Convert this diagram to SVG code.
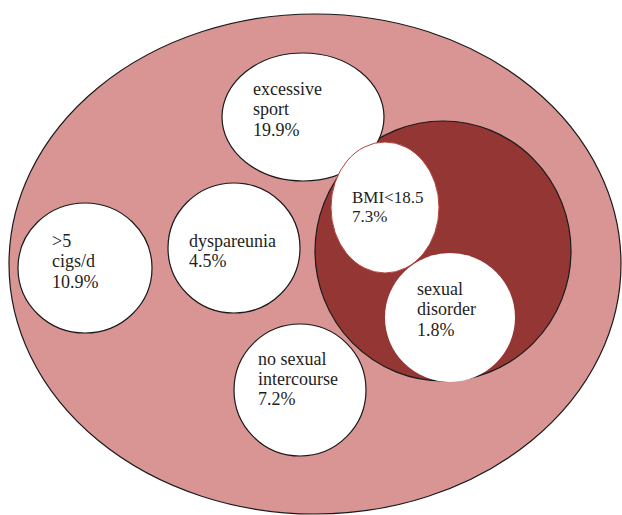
<svg xmlns="http://www.w3.org/2000/svg" width="622" height="515" viewBox="0 0 622 515">
<style>
.bubble{fill:#ffffff;stroke:#1a1a1a;stroke-width:1.2}
.lbl{font-family:"Liberation Serif","Times New Roman",serif;font-size:18px;fill:#1e1e1e}
</style>
<rect width="622" height="515" fill="#ffffff"/>
<g id="all">
<ellipse cx="315" cy="264" rx="306" ry="250" fill="#d99594" stroke="#1a1a1a" stroke-width="1.2"/>
</g>
<g id="sexual-dysfunction-set">
<ellipse cx="443" cy="251" rx="128" ry="130" fill="#943634" stroke="#1a1a1a" stroke-width="1.2"/>
</g>
<g id="excessive-sport">
<ellipse class="bubble" cx="303" cy="117" rx="81" ry="64"/>
<text class="lbl" x="253" y="95">excessive</text>
<text class="lbl" x="253" y="115">sport</text>
<text class="lbl" x="253" y="136">19.9%</text>
</g>
<g id="bmi">
<ellipse cx="385" cy="207.5" rx="54" ry="65.5" fill="#ffffff" stroke="#b5423f" stroke-width="1"/>
<text class="lbl" x="352" y="203" style="font-size:17px">BMI&lt;18.5</text>
<text class="lbl" x="352" y="222" style="font-size:17px">7.3%</text>
</g>
<g id="sexual-disorder">
<ellipse cx="450" cy="317.5" rx="65" ry="64.5" fill="#ffffff"/>
<text class="lbl" x="417" y="295">sexual</text>
<text class="lbl" x="417" y="315">disorder</text>
<text class="lbl" x="417" y="336">1.8%</text>
</g>
<g id="cigs">
<ellipse class="bubble" cx="85" cy="268" rx="67" ry="65"/>
<text class="lbl" x="52" y="247">&gt;5</text>
<text class="lbl" x="52" y="267">cigs/d</text>
<text class="lbl" x="52" y="288">10.9%</text>
</g>
<g id="dyspareunia">
<ellipse class="bubble" cx="234" cy="248" rx="66" ry="65"/>
<text class="lbl" x="189" y="247">dyspareunia</text>
<text class="lbl" x="189" y="267">4.5%</text>
</g>
<g id="no-intercourse">
<ellipse class="bubble" cx="300" cy="390" rx="66" ry="66"/>
<text class="lbl" x="258" y="365">no sexual</text>
<text class="lbl" x="258" y="385">intercourse</text>
<text class="lbl" x="258" y="405">7.2%</text>
</g>
<g id="connectors"/>
</svg>
